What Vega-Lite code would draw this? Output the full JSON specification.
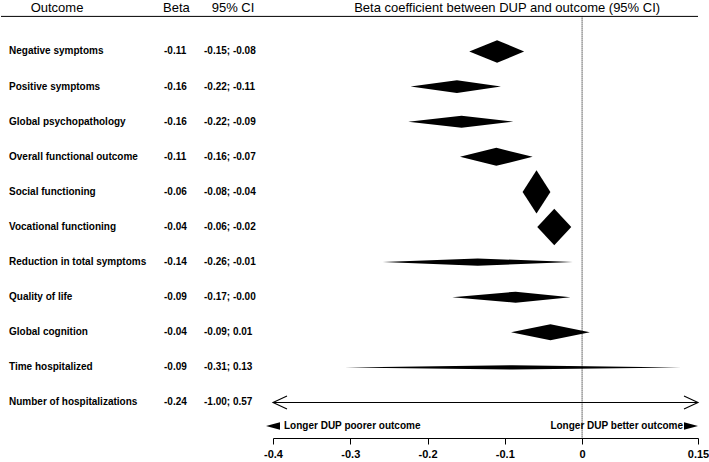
{
  "$schema": "https://vega.github.io/schema/vega-lite/v6.json",
  "padding": 0,
  "spacing": 0,
  "bounds": "flush",
  "config": {
    "view": {"stroke": null},
    "font": "Liberation Sans",
    "text": {"color": "black"},
    "locale": {"number": {"decimal": ".", "thousands": ",", "grouping": [3], "currency": ["$", ""], "minus": "-"}}
  },
  "datasets": {
    "rows": [
      {"row": 1, "outcome": "Negative symptoms", "beta": -0.11, "lo": -0.15, "hi": -0.08, "ci": "-0.15; -0.08"},
      {"row": 2, "outcome": "Positive symptoms", "beta": -0.16, "lo": -0.22, "hi": -0.11, "ci": "-0.22; -0.11"},
      {"row": 3, "outcome": "Global psychopathology", "beta": -0.16, "lo": -0.22, "hi": -0.09, "ci": "-0.22; -0.09"},
      {"row": 4, "outcome": "Overall functional outcome", "beta": -0.11, "lo": -0.16, "hi": -0.07, "ci": "-0.16; -0.07"},
      {"row": 5, "outcome": "Social functioning", "beta": -0.06, "lo": -0.08, "hi": -0.04, "ci": "-0.08; -0.04"},
      {"row": 6, "outcome": "Vocational functioning", "beta": -0.04, "lo": -0.06, "hi": -0.02, "ci": "-0.06; -0.02"},
      {"row": 7, "outcome": "Reduction in total symptoms", "beta": -0.14, "lo": -0.26, "hi": -0.01, "ci": "-0.26; -0.01"},
      {"row": 8, "outcome": "Quality of life", "beta": -0.09, "lo": -0.17, "hi": -0.00, "ci": "-0.17; -0.00"},
      {"row": 9, "outcome": "Global cognition", "beta": -0.04, "lo": -0.09, "hi": 0.01, "ci": "-0.09; 0.01"},
      {"row": 10, "outcome": "Time hospitalized", "beta": -0.09, "lo": -0.31, "hi": 0.13, "ci": "-0.31; 0.13"},
      {"row": 11, "outcome": "Number of hospitalizations", "beta": -0.24, "lo": -1.00, "hi": 0.57, "ci": "-1.00; 0.57"}
    ],
    "diamonds": [
      {"outcome": "Negative symptoms", "x": -0.146, "top": 1, "bottom": 1},
      {"outcome": "Negative symptoms", "x": -0.110, "top": 0.678, "bottom": 1.322},
      {"outcome": "Negative symptoms", "x": -0.075, "top": 1, "bottom": 1},
      {"outcome": "Positive symptoms", "x": -0.222, "top": 2, "bottom": 2},
      {"outcome": "Positive symptoms", "x": -0.162, "top": 1.82, "bottom": 2.18},
      {"outcome": "Positive symptoms", "x": -0.105, "top": 2, "bottom": 2},
      {"outcome": "Global psychopathology", "x": -0.225, "top": 3, "bottom": 3},
      {"outcome": "Global psychopathology", "x": -0.156, "top": 2.83, "bottom": 3.17},
      {"outcome": "Global psychopathology", "x": -0.089, "top": 3, "bottom": 3},
      {"outcome": "Overall functional outcome", "x": -0.158, "top": 4, "bottom": 4},
      {"outcome": "Overall functional outcome", "x": -0.111, "top": 3.744, "bottom": 4.256},
      {"outcome": "Overall functional outcome", "x": -0.064, "top": 4, "bottom": 4},
      {"outcome": "Social functioning", "x": -0.077, "top": 5, "bottom": 5},
      {"outcome": "Social functioning", "x": -0.059, "top": 4.382, "bottom": 5.618},
      {"outcome": "Social functioning", "x": -0.041, "top": 5, "bottom": 5},
      {"outcome": "Vocational functioning", "x": -0.058, "top": 6, "bottom": 6},
      {"outcome": "Vocational functioning", "x": -0.036, "top": 5.48, "bottom": 6.52},
      {"outcome": "Vocational functioning", "x": -0.014, "top": 6, "bottom": 6},
      {"outcome": "Reduction in total symptoms", "x": -0.258, "top": 7, "bottom": 7},
      {"outcome": "Reduction in total symptoms", "x": -0.135, "top": 6.895, "bottom": 7.105},
      {"outcome": "Reduction in total symptoms", "x": -0.012, "top": 7, "bottom": 7},
      {"outcome": "Quality of life", "x": -0.168, "top": 8, "bottom": 8},
      {"outcome": "Quality of life", "x": -0.086, "top": 7.843, "bottom": 8.157},
      {"outcome": "Quality of life", "x": -0.015, "top": 8, "bottom": 8},
      {"outcome": "Global cognition", "x": -0.092, "top": 9, "bottom": 9},
      {"outcome": "Global cognition", "x": -0.041, "top": 8.772, "bottom": 9.228},
      {"outcome": "Global cognition", "x": 0.010, "top": 9, "bottom": 9},
      {"outcome": "Time hospitalized", "x": -0.307, "top": 10, "bottom": 10},
      {"outcome": "Time hospitalized", "x": -0.090, "top": 9.937, "bottom": 10.063},
      {"outcome": "Time hospitalized", "x": 0.128, "top": 10, "bottom": 10}
    ]
  },
  "resolve": {"scale": {"x": "independent", "y": "independent"}},
  "hconcat": [
    {
      "width": 272,
      "height": 438,
      "layer": [
        {
          "data": {"values": [{}]},
          "mark": {"type": "rule", "color": "black", "strokeWidth": 1},
          "encoding": {
            "y": {"datum": 0, "type": "quantitative", "scale": {"domain": [-0.467, 12.012], "reverse": true, "nice": false, "zero": false}, "axis": null}
          }
        },
        {
          "data": {"values": [{}]},
          "mark": {"type": "text", "text": "Outcome", "fontSize": 13, "align": "center", "baseline": "middle", "dx": 48},
          "encoding": {
            "x": {"datum": "Outcome", "type": "nominal", "scale": {"type": "point", "domain": ["Outcome", "Beta", "95% CI"], "range": [8, 203], "padding": 0}, "axis": null},
            "y": {"datum": -0.23, "type": "quantitative"}
          }
        },
        {
          "data": {"values": [{}]},
          "mark": {"type": "text", "text": "Beta", "fontSize": 13, "align": "left", "baseline": "middle", "dx": 56.5},
          "encoding": {
            "x": {"datum": "Beta", "type": "nominal"},
            "y": {"datum": -0.23, "type": "quantitative"}
          }
        },
        {
          "data": {"values": [{}]},
          "mark": {"type": "text", "text": "95% CI", "fontSize": 13, "align": "center", "baseline": "middle", "dx": 29},
          "encoding": {
            "x": {"datum": "95% CI", "type": "nominal"},
            "y": {"datum": -0.23, "type": "quantitative"}
          }
        },
        {
          "data": {"name": "rows"},
          "mark": {"type": "text", "fontSize": 10, "fontWeight": "bold", "align": "left", "baseline": "middle"},
          "encoding": {
            "x": {"datum": "Outcome", "type": "nominal"},
            "y": {"field": "row", "type": "quantitative"},
            "text": {"field": "outcome", "type": "nominal"}
          }
        },
        {
          "data": {"name": "rows"},
          "mark": {"type": "text", "fontSize": 10, "fontWeight": "bold", "align": "left", "baseline": "middle", "dx": 57.5},
          "encoding": {
            "x": {"datum": "Beta", "type": "nominal"},
            "y": {"field": "row", "type": "quantitative"},
            "text": {"field": "beta", "type": "quantitative", "format": ".2f"}
          }
        },
        {
          "data": {"name": "rows"},
          "mark": {"type": "text", "fontSize": 10, "fontWeight": "bold", "align": "left", "baseline": "middle"},
          "encoding": {
            "x": {"datum": "95% CI", "type": "nominal"},
            "y": {"field": "row", "type": "quantitative"},
            "text": {"field": "ci", "type": "nominal"}
          }
        }
      ]
    },
    {
      "width": 425,
      "height": 438,
      "layer": [
        {
          "data": {"values": [{}]},
          "mark": {"type": "rule", "color": "black", "strokeWidth": 1},
          "encoding": {
            "y": {"datum": 0, "type": "quantitative", "scale": {"domain": [-0.467, 12.012], "reverse": true, "nice": false, "zero": false}, "axis": null}
          }
        },
        {
          "data": {"values": [{}]},
          "mark": {"type": "rule", "color": "black", "strokeWidth": 1, "strokeDash": [1, 1]},
          "encoding": {
            "x": {
              "datum": 0, "type": "quantitative",
              "scale": {"domain": [-0.4, 0.15], "nice": false, "zero": false},
              "axis": {
                "values": [-0.4, -0.3, -0.2, -0.1, 0, 0.15], "format": "~g", "title": null, "grid": false,
                "domainColor": "black", "tickColor": "black", "tickSize": 6, "labelColor": "black",
                "labelFont": "Liberation Sans", "labelFontWeight": "bold", "labelFontSize": 11,
                "labelPadding": 4, "labelFlush": false, "labelOverlap": false
              }
            },
            "y": {"datum": 0, "type": "quantitative"},
            "y2": {"datum": 12.012}
          }
        },
        {
          "data": {"values": [{}]},
          "mark": {"type": "text", "text": "Beta coefficient between DUP and outcome (95% CI)", "fontSize": 13, "align": "center", "baseline": "middle"},
          "encoding": {
            "x": {"datum": -0.097, "type": "quantitative"},
            "y": {"datum": -0.23, "type": "quantitative"}
          }
        },
        {
          "data": {"name": "diamonds"},
          "mark": {"type": "area", "color": "black", "interpolate": "linear"},
          "encoding": {
            "x": {"field": "x", "type": "quantitative"},
            "y": {"field": "top", "type": "quantitative"},
            "y2": {"field": "bottom"},
            "detail": {"field": "outcome", "type": "nominal"}
          }
        },
        {
          "data": {"name": "rows"},
          "transform": [{"filter": "datum.row == 11"}],
          "mark": {"type": "rule", "color": "black", "strokeWidth": 1.2, "clip": true},
          "encoding": {
            "x": {"field": "lo", "type": "quantitative"},
            "x2": {"field": "hi"},
            "y": {"field": "row", "type": "quantitative"}
          }
        },
        {
          "data": {"values": [{}]},
          "mark": {"type": "point", "shape": "M2,-0.93L0,0L2,0.93", "size": 196, "filled": false, "stroke": "black", "strokeWidth": 1.1, "opacity": 1},
          "encoding": {
            "x": {"datum": -0.4, "type": "quantitative"},
            "y": {"datum": 11, "type": "quantitative"}
          }
        },
        {
          "data": {"values": [{}]},
          "mark": {"type": "point", "shape": "M-2,-0.93L0,0L-2,0.93", "size": 196, "filled": false, "stroke": "black", "strokeWidth": 1.1, "opacity": 1},
          "encoding": {
            "x": {"datum": 0.15, "type": "quantitative"},
            "y": {"datum": 11, "type": "quantitative"}
          }
        },
        {
          "data": {"values": [{}]},
          "mark": {"type": "point", "shape": "M-1,0L1,-0.55L1,0.55Z", "size": 196, "filled": true, "fill": "black", "strokeWidth": 0, "opacity": 1},
          "encoding": {
            "x": {"datum": -0.4, "type": "quantitative"},
            "y": {"datum": 11.67, "type": "quantitative"}
          }
        },
        {
          "data": {"values": [{}]},
          "mark": {"type": "point", "shape": "M0,0L-2,-0.55L-2,0.55Z", "size": 196, "filled": true, "fill": "black", "strokeWidth": 0, "opacity": 1},
          "encoding": {
            "x": {"datum": 0.15, "type": "quantitative"},
            "y": {"datum": 11.67, "type": "quantitative"}
          }
        },
        {
          "data": {"values": [{}]},
          "mark": {"type": "text", "text": "Longer DUP poorer outcome", "fontSize": 10, "fontWeight": "bold", "align": "left", "baseline": "middle", "dx": 11},
          "encoding": {
            "x": {"datum": -0.4, "type": "quantitative"},
            "y": {"datum": 11.67, "type": "quantitative"}
          }
        },
        {
          "data": {"values": [{}]},
          "mark": {"type": "text", "text": "Longer DUP better outcome", "fontSize": 10, "fontWeight": "bold", "align": "right", "baseline": "middle", "dx": -15},
          "encoding": {
            "x": {"datum": 0.15, "type": "quantitative"},
            "y": {"datum": 11.67, "type": "quantitative"}
          }
        }
      ]
    }
  ]
}
